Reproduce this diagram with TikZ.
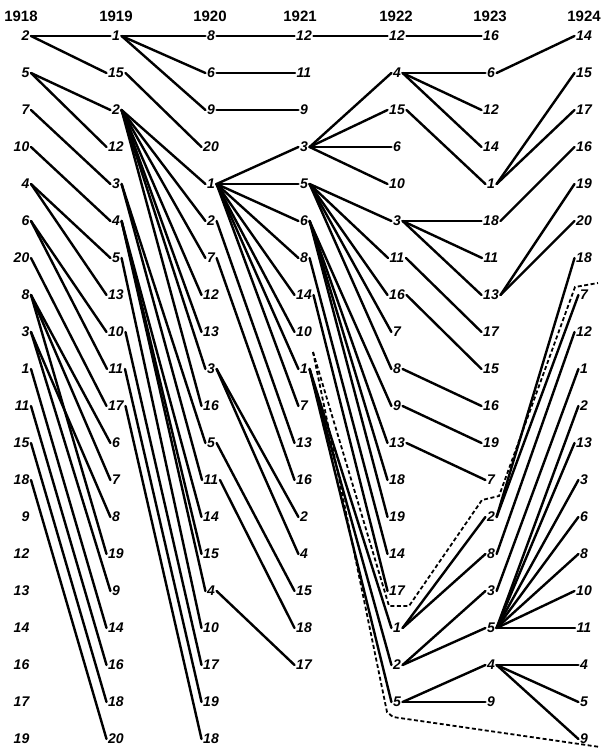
\documentclass[tikz,border=0pt]{standalone}
\usepackage{fontspec}
\setmainfont{Liberation Sans}
\begin{document}
\begin{tikzpicture}[x=1pt,y=-1pt,
  num/.style={font=\bfseries\itshape\fontsize{14}{14}\selectfont, inner sep=1.5pt},
  yr/.style={font=\bfseries\fontsize{15}{15}\selectfont, inner sep=0pt},
  ln/.style={line width=2.4pt, line cap=round},
  dsh/.style={line width=1.8pt, dash pattern=on 4pt off 2.5pt}]
\useasboundingbox (0,0) rectangle (605,751);
% year headers
\foreach \yv/\xx [count=\i] in {1918/21,1919/116,1920/210,1921/300,1922/396,1923/490,1924/584}
  \node[yr] (H\i) at (\xx,16) {\yv};
% columns
\foreach \v [count=\i] in {2,5,7,10,4,6,20,8,3,1,11,15,18,9,12,13,14,16,17,19}
  \node[num,anchor=east] (A\i) at (31,{36+(\i-1)*37}) {\v};
\foreach \v [count=\i] in {1,15,2,12,3,4,5,13,10,11,17,6,7,8,19,9,14,16,18,20}
  \node[num] (B\i) at (116,{36+(\i-1)*37}) {\v};
\foreach \v [count=\i] in {8,6,9,20,1,2,7,12,13,3,16,5,11,14,15,4,10,17,19,18}
  \node[num] (C\i) at (211,{36+(\i-1)*37}) {\v};
\foreach \v [count=\i] in {12,11,9,3,5,6,8,14,10,1,7,13,16,2,4,15,18,17}
  \node[num] (D\i) at (304,{36+(\i-1)*37}) {\v};
\foreach \v [count=\i] in {12,4,15,6,10,3,11,16,7,8,9,13,18,19,14,17,1,2,5}
  \node[num] (E\i) at (397,{36+(\i-1)*37}) {\v};
\foreach \v [count=\i] in {16,6,12,14,1,18,11,13,17,15,16,19,7,2,8,3,5,4,9}
  \node[num] (F\i) at (491,{36+(\i-1)*37}) {\v};
\foreach \v [count=\i] in {14,15,17,16,19,20,18,7,12,1,2,13,3,6,8,10,11,4,5,9}
  \node[num] (G\i) at (584,{36+(\i-1)*37}) {\v};
% connectors
\foreach \s/\t in {1/1,1/2,2/3,2/4,3/5,4/6,5/7,5/8,6/9,6/10,7/11,8/12,8/13,8/15,9/14,9/16,10/17,11/18,12/19,13/20}
  \draw[ln] (A\s.east) -- (B\t.west);
\foreach \s/\t in {1/1,1/2,1/3,2/4,3/5,3/6,3/7,3/8,3/9,3/10,3/11,5/12,5/13,6/14,6/15,6/16,7/17,9/18,10/19,11/20}
  \draw[ln] (B\s.east) -- (C\t.west);
\foreach \s/\t in {1/1,2/2,3/3,5/4,5/5,5/6,5/7,5/8,5/9,5/10,5/11,6/12,7/13,10/14,10/15,12/16,13/17,16/18}
  \draw[ln] (C\s.east) -- (D\t.west);
\foreach \s/\t in {1/1,4/2,4/3,4/4,4/5,5/6,5/7,5/8,5/9,5/10,6/11,6/12,6/13,6/14,7/15,8/16,10/17,10/18,10/19}
  \draw[ln] (D\s.east) -- (E\t.west);
\foreach \s/\t in {1/1,2/2,2/3,2/4,3/5,6/6,6/7,6/8,7/9,8/10,10/11,11/12,12/13,17/14,17/15,18/16,18/17,19/18,19/19}
  \draw[ln] (E\s.east) -- (F\t.west);
\foreach \s/\t in {2/1,5/2,5/3,6/4,8/5,8/6,14/7,14/8,15/9,16/10,17/11,17/12,17/13,17/14,17/15,17/16,17/17,18/18,18/19,18/20}
  \draw[ln] (F\s.east) -- (G\t.west);
% dashed routes
\coordinate (p0) at (313,352);
\coordinate (pa1) at (389,606);
\coordinate (pa2) at (409,606);
\coordinate (pa3) at (482,500);
\coordinate (pa4) at (499,496);
\coordinate (pa5) at (575,287);
\coordinate (pa6) at (598,283);
\coordinate (pb1) at (387,712);
\coordinate (pb2) at (393,717);
\coordinate (pb3) at (600,747);
\draw[dsh] (p0) -- (pa1) -- (pa2) -- (pa3) -- (pa4) -- (pa5) -- (pa6);
\draw[dsh] (p0) -- (pb1) -- (pb2) -- (pb3);
\end{tikzpicture}
\end{document}
